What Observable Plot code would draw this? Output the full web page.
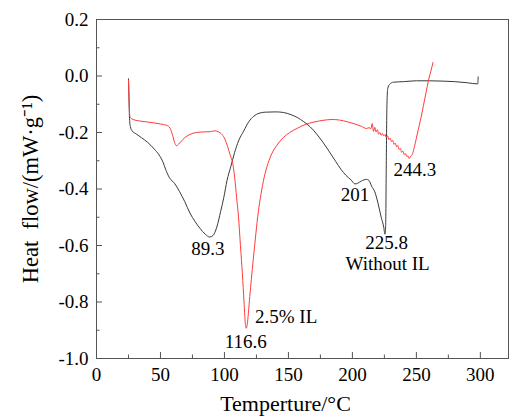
<!DOCTYPE html>
<html><head><meta charset="utf-8">
<script src="https://cdn.jsdelivr.net/npm/d3@7"></script>
<script src="https://cdn.jsdelivr.net/npm/@observablehq/plot@0.6"></script>
<style>body{margin:0;background:#fff} svg{display:block}</style>
</head><body><div id="chart"></div>
<script>
// Without IL (black)
const blackT = [25.0,25.3,25.8,26.5,28,31,35,40,45,49,52,54,57,61,65,69,73,77,81,85,88.5,91,94,97,99.5,102,105,108,111,115,119,123,127,132,140,146,152,157,162,167,172,177,182,187,191,195,199,202,204,207,211,213,215,217.5,220,222.5,224.5,225.4,226,226.5,227,227.6,229,232,240,250,260,270,280,290,298,298.3];
const blackH = [-0.01,-0.06,-0.15,-0.18,-0.195,-0.205,-0.218,-0.235,-0.258,-0.28,-0.305,-0.33,-0.36,-0.38,-0.41,-0.445,-0.485,-0.515,-0.54,-0.56,-0.57,-0.565,-0.535,-0.48,-0.43,-0.37,-0.32,-0.27,-0.23,-0.195,-0.162,-0.142,-0.132,-0.128,-0.127,-0.129,-0.137,-0.147,-0.162,-0.18,-0.205,-0.235,-0.268,-0.303,-0.33,-0.352,-0.368,-0.382,-0.38,-0.372,-0.366,-0.37,-0.39,-0.41,-0.45,-0.5,-0.535,-0.56,-0.53,-0.3,-0.1,-0.045,-0.03,-0.022,-0.02,-0.017,-0.017,-0.018,-0.02,-0.024,-0.028,-0.003];
// 2.5% IL (red)
const redT = [25,25.4,26,27,30,35,40,45,50,55,57.5,59.5,61,62.5,64,66,69,73,78,84,89,92.5,95,98,100.5,102.5,104.5,106.5,108,109.5,111,112.5,114,115.3,116.2,117,117.8,118.7,119.8,121,122.5,124.5,126.5,128.5,131,134,137,141,146,151,157,163,170,177,184,190,196,202,207,211,213,214.5,215.5,216.5,217.5,218.5,219.5,220.5,221.5,222.5,223.5,224.5,225.5,226.5,227.5,228.5,229.5,230.5,231.5,232.5,233.5,234.5,235.5,236.5,237.5,238.5,239.5,240.5,241.5,242.5,243.5,244.3,245.5,247,248.5,250,251.5,253.5,255.5,257.5,259.5,261.5,263];
const redH = [-0.015,-0.08,-0.14,-0.15,-0.156,-0.16,-0.163,-0.166,-0.17,-0.175,-0.185,-0.21,-0.235,-0.247,-0.242,-0.232,-0.218,-0.207,-0.2,-0.198,-0.197,-0.194,-0.197,-0.207,-0.225,-0.25,-0.28,-0.31,-0.36,-0.43,-0.5,-0.6,-0.7,-0.8,-0.87,-0.893,-0.88,-0.84,-0.78,-0.72,-0.65,-0.56,-0.48,-0.42,-0.36,-0.31,-0.275,-0.245,-0.218,-0.2,-0.185,-0.172,-0.163,-0.157,-0.154,-0.156,-0.162,-0.17,-0.178,-0.186,-0.183,-0.186,-0.168,-0.196,-0.182,-0.198,-0.19,-0.206,-0.2,-0.21,-0.203,-0.212,-0.207,-0.218,-0.212,-0.225,-0.22,-0.232,-0.228,-0.242,-0.237,-0.25,-0.246,-0.26,-0.257,-0.27,-0.266,-0.278,-0.275,-0.285,-0.283,-0.292,-0.285,-0.275,-0.25,-0.22,-0.19,-0.15,-0.105,-0.06,-0.015,0.02,0.048];

const annText = ["89.3","116.6","2.5% IL","201","225.8","Without IL","244.3"];
const annT    = [87.1, 116.7, 148.2, 202, 226.7, 227.5, 248.8];
const annH    = [-0.612, -0.943, -0.852, -0.42, -0.592, -0.665, -0.333];

const xMajor = [0,50,100,150,200,250,300];
const xMinor = [25,75,125,175,225,275];
const yMajor = [-1.0,-0.8,-0.6,-0.4,-0.2,0.0,0.2];
const yMinor = [-0.9,-0.7,-0.5,-0.3,-0.1,0.1];

const black = blackT.map((t,i)=>({t, h: blackH[i]}));
const red = redT.map((t,i)=>({t, h: redH[i]}));
const ann = annText.map((s,i)=>({s, t: annT[i], h: annH[i]}));

const W = 509, H = 419, mL = 96, mT = 19, mB = 61, mR = 1;
const fw = W - mL - mR, fh = H - mT - mB;
const axisColor = "#555";

const plot = Plot.plot({
  width: W, height: H,
  marginLeft: mL, marginTop: mT, marginBottom: mB, marginRight: mR,
  style: {fontFamily: "'Liberation Serif','Times New Roman',serif", fontSize: "19px", color: "#000", background: "#fff"},
  x: {domain: [0, 322]},
  y: {domain: [-1, 0.2]},
  marks: [
    Plot.tickX(xMajor, {x: d=>d, insetTop: fh - 6, stroke: axisColor}),
    Plot.tickX(xMinor, {x: d=>d, insetTop: fh - 3.5, stroke: axisColor}),
    Plot.tickY(yMajor, {y: d=>d, insetRight: fw - 6, stroke: axisColor}),
    Plot.tickY(yMinor, {y: d=>d, insetRight: fw - 3.5, stroke: axisColor}),
    Plot.axisX(xMajor, {tickSize: 0, tickPadding: 9, label: null, fontSize: 19, tickFormat: d=>String(d)}),
    Plot.axisY(yMajor, {tickSize: 0, tickPadding: 8, label: null, fontSize: 19, tickFormat: d=>d.toFixed(1)}),
    Plot.line(black, {x: "t", y: "h", stroke: "#3a3a3a", strokeWidth: 1, curve: "monotone-x"}),
    Plot.line(red, {x: "t", y: "h", stroke: "#ff3b3b", strokeWidth: 1, curve: "monotone-x"}),
    Plot.frame({stroke: axisColor}),
    Plot.text(ann, {x: "t", y: "h", text: "s", fontSize: 19, fill: "#000"}),
    Plot.text(["Temperture/°C"], {frameAnchor: "bottom", textAnchor: "middle", dx: -17, dy: 52, fontSize: 22, fill: "#000"}),
    Plot.text(["Heat  flow/(mW·g⁻¹)"], {frameAnchor: "left", textAnchor: "middle", rotate: -90, dx: -66, dy: 0, fontSize: 22.5, fill: "#000"})
  ]
});
document.getElementById("chart").appendChild(plot);
</script>
</body></html>
